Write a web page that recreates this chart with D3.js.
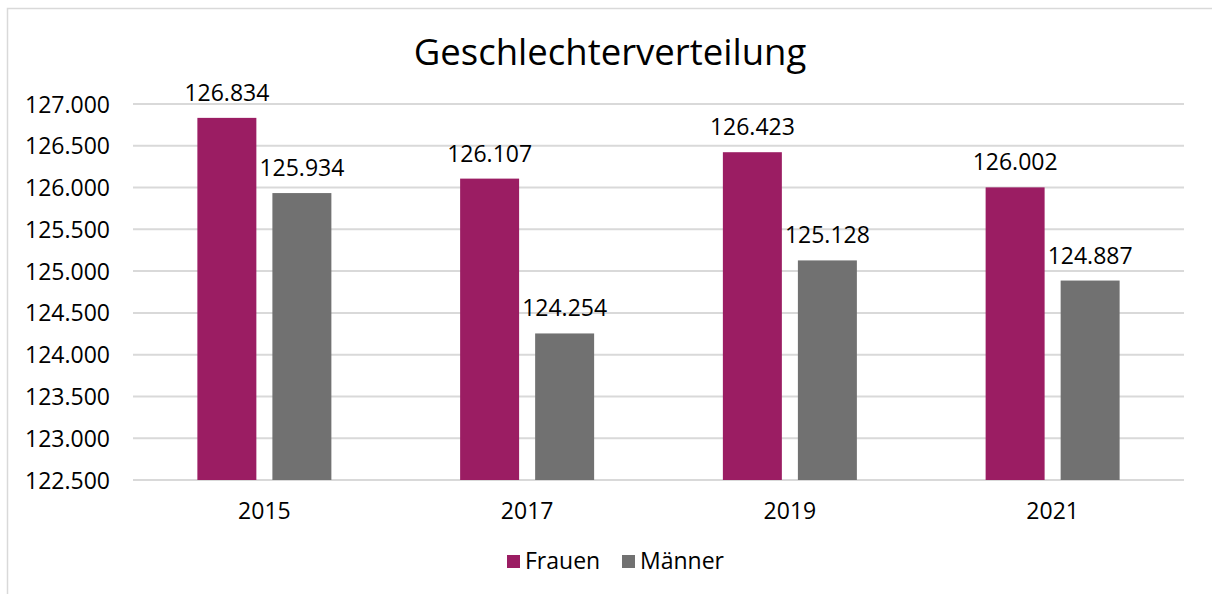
<!DOCTYPE html>
<html><head><meta charset="utf-8">
<script src="https://cdn.jsdelivr.net/npm/d3@7"></script>
<style>
html,body{margin:0;padding:0;background:#fff;}
svg text{font-family:"Open Sans",sans-serif;fill:#000;}
</style></head>
<body><svg id="c" width="1212" height="594"></svg>
<script>
const categories = ["2015","2017","2019","2021"];
const seriesNames = ["Frauen","Männer"];
const frauen = [126834,126107,126423,126002];
const maenner = [125934,124254,125128,124887];
const yTicks = [122500,123000,123500,124000,124500,125000,125500,126000,126500,127000];
const colors = ["#9B1D63","#717171"];
const title = "Geschlechterverteilung";

(function(){
const svg = d3.select("#c");
const loc = d3.formatLocale({decimal:",",thousands:".",grouping:[3],currency:["","€"]});
const fmt = loc.format(",d");
const fs = 23;

const pL=133,pR=1184,pT=104,pB=480;
svg.append("rect").attr("x",7.5).attr("y",8.5).attr("width",1300).attr("height",700)
  .attr("fill","#fff").attr("stroke","#d9d9d9").attr("stroke-width",1.5);

const x = d3.scaleBand().domain(categories).range([pL,pR]).paddingInner(0).paddingOuter(0);
const y = d3.scaleLinear().domain([122500,127000]).range([pB,pT]);

svg.append("g").selectAll("line").data(yTicks).join("line")
  .attr("x1",pL).attr("x2",pR).attr("y1",d=>y(d)).attr("y2",d=>y(d))
  .attr("stroke","#d9d9d9").attr("stroke-width",2);

const yAxis = d3.axisLeft(y).tickValues(yTicks).tickFormat(fmt).tickSize(0).tickPadding(0);
const ya = svg.append("g").attr("transform",`translate(110,0)`).call(yAxis);
ya.select(".domain").remove();
ya.selectAll("text").attr("font-size",fs).attr("font-family","Open Sans").attr("fill","#000").attr("dy","0.35em");

const xAxis = d3.axisBottom(x).tickSize(0).tickPadding(0);
const xa = svg.append("g").attr("transform",`translate(0,${pB})`).call(xAxis);
xa.select(".domain").remove();
xa.selectAll("text").attr("font-size",fs).attr("font-family","Open Sans").attr("fill","#000").attr("y",31).attr("dy","0.35em");

const bw = x.bandwidth();
const barW = bw*0.2245, gap = bw*0.061;
const sub = d3.scaleOrdinal().domain(seriesNames).range([-(gap/2+barW), gap/2]);
const data = [frauen, maenner];
seriesNames.forEach((s,si)=>{
  const g = svg.append("g");
  g.selectAll("rect").data(categories).join("rect")
    .attr("x",(c)=>x(c)+bw/2+sub(s))
    .attr("width",barW)
    .attr("y",(c,i)=>y(data[si][i]))
    .attr("height",(c,i)=>pB-y(data[si][i]))
    .attr("fill",colors[si]);
  g.selectAll("text").data(categories).join("text")
    .attr("x",(c)=>x(c)+bw/2+sub(s)+barW/2)
    .attr("y",(c,i)=>y(data[si][i])-17)
    .attr("text-anchor","middle").attr("font-size",fs)
    .text((c,i)=>fmt(data[si][i]));
});

svg.append("text").attr("x",610).attr("y",65).attr("text-anchor","middle")
  .attr("font-size",36.5).text(title);

const leg = svg.append("g");
const legX = [507, 622];
seriesNames.forEach((s,i)=>{
  leg.append("rect").attr("x",legX[i]).attr("y",555).attr("width",13).attr("height",13).attr("fill",colors[i]);
  leg.append("text").attr("x",legX[i]+18).attr("y",561).attr("dy","0.35em").attr("font-size",fs).text(s);
});
})();
</script></body></html>
